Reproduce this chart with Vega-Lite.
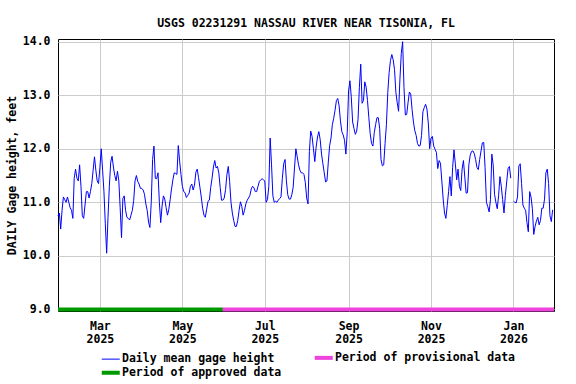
{
"$schema": "https://vega.github.io/schema/vega-lite/v6.json",
"width": 496, "height": 272,
"autosize": {"type": "none"},
"padding": {"left": 58, "top": 39, "right": 22, "bottom": 73},
"background": "white",
"title": {"text": "USGS 02231291 NASSAU RIVER NEAR TISONIA, FL", "font": "DejaVu Sans Mono", "fontSize": 11.5, "fontWeight": "bold", "color": "black", "anchor": "middle", "offset": 6},
"config": {"view": {"stroke": "black", "strokeWidth": 1}},
"datasets": {
"periods": [
{"series": "Period of approved data", "start": "2025-01-29", "end": "2025-05-31"},
{"series": "Period of provisional data", "start": "2025-05-31", "end": "2026-01-31"}
],
"gage": [
{"date":"2025-01-29","h":10.75},{"date":"2025-01-30","h":10.8},{"date":"2025-01-31","h":10.5},
{"date":"2025-02-01","h":10.85},{"date":"2025-02-02","h":11.1},{"date":"2025-02-03","h":11.05},{"date":"2025-02-04","h":11.0},{"date":"2025-02-05","h":11.1},{"date":"2025-02-06","h":11.0},{"date":"2025-02-07","h":10.9},{"date":"2025-02-08","h":10.85},{"date":"2025-02-09","h":10.7},{"date":"2025-02-10","h":11.45},{"date":"2025-02-11","h":11.62},{"date":"2025-02-12","h":11.45},{"date":"2025-02-13","h":11.4},{"date":"2025-02-14","h":11.7},{"date":"2025-02-15","h":11.3},{"date":"2025-02-16","h":10.75},{"date":"2025-02-17","h":10.7},{"date":"2025-02-18","h":10.95},{"date":"2025-02-19","h":11.2},{"date":"2025-02-20","h":11.2},{"date":"2025-02-21","h":11.08},{"date":"2025-02-22","h":11.2},{"date":"2025-02-23","h":11.35},{"date":"2025-02-24","h":11.6},{"date":"2025-02-25","h":11.85},{"date":"2025-02-26","h":11.6},{"date":"2025-02-27","h":11.4},{"date":"2025-02-28","h":11.35},
{"date":"2025-03-01","h":11.65},{"date":"2025-03-02","h":12.0},{"date":"2025-03-03","h":11.6},{"date":"2025-03-04","h":11.2},{"date":"2025-03-05","h":10.6},{"date":"2025-03-06","h":10.05},{"date":"2025-03-07","h":10.72},{"date":"2025-03-08","h":11.3},{"date":"2025-03-09","h":11.75},{"date":"2025-03-10","h":11.86},{"date":"2025-03-11","h":11.66},{"date":"2025-03-12","h":11.5},{"date":"2025-03-13","h":11.4},{"date":"2025-03-14","h":11.58},{"date":"2025-03-15","h":11.4},{"date":"2025-03-16","h":10.9},{"date":"2025-03-17","h":10.34},{"date":"2025-03-18","h":11.07},{"date":"2025-03-19","h":11.12},{"date":"2025-03-20","h":10.85},{"date":"2025-03-21","h":10.72},{"date":"2025-03-22","h":10.7},{"date":"2025-03-23","h":10.67},{"date":"2025-03-24","h":10.76},{"date":"2025-03-25","h":10.85},{"date":"2025-03-26","h":11.03},{"date":"2025-03-27","h":11.4},{"date":"2025-03-28","h":11.5},{"date":"2025-03-29","h":11.39},{"date":"2025-03-30","h":11.34},{"date":"2025-03-31","h":11.26},
{"date":"2025-04-01","h":11.26},{"date":"2025-04-02","h":11.23},{"date":"2025-04-03","h":11.15},{"date":"2025-04-04","h":10.97},{"date":"2025-04-05","h":10.85},{"date":"2025-04-06","h":10.63},{"date":"2025-04-07","h":10.53},{"date":"2025-04-08","h":11.0},{"date":"2025-04-09","h":11.8},{"date":"2025-04-10","h":12.05},{"date":"2025-04-11","h":11.45},{"date":"2025-04-12","h":11.44},{"date":"2025-04-13","h":11.55},{"date":"2025-04-14","h":11.0},{"date":"2025-04-15","h":10.62},{"date":"2025-04-16","h":10.93},{"date":"2025-04-17","h":11.12},{"date":"2025-04-18","h":11.06},{"date":"2025-04-19","h":10.9},{"date":"2025-04-20","h":10.76},{"date":"2025-04-21","h":10.87},{"date":"2025-04-22","h":11.05},{"date":"2025-04-23","h":11.25},{"date":"2025-04-24","h":11.42},{"date":"2025-04-25","h":11.55},{"date":"2025-04-26","h":11.54},{"date":"2025-04-27","h":11.52},{"date":"2025-04-28","h":12.06},{"date":"2025-04-29","h":11.77},{"date":"2025-04-30","h":11.52},
{"date":"2025-05-01","h":11.3},{"date":"2025-05-02","h":11.2},{"date":"2025-05-03","h":11.18},{"date":"2025-05-04","h":11.09},{"date":"2025-05-05","h":11.13},{"date":"2025-05-06","h":11.17},{"date":"2025-05-07","h":11.3},{"date":"2025-05-08","h":11.34},{"date":"2025-05-09","h":11.23},{"date":"2025-05-10","h":11.32},{"date":"2025-05-11","h":11.56},{"date":"2025-05-12","h":11.62},{"date":"2025-05-13","h":11.46},{"date":"2025-05-14","h":11.28},{"date":"2025-05-15","h":11.1},{"date":"2025-05-16","h":10.89},{"date":"2025-05-17","h":10.76},{"date":"2025-05-18","h":10.72},{"date":"2025-05-19","h":10.87},{"date":"2025-05-20","h":11.02},{"date":"2025-05-21","h":11.04},{"date":"2025-05-22","h":11.28},{"date":"2025-05-23","h":11.45},{"date":"2025-05-24","h":11.66},{"date":"2025-05-25","h":11.78},{"date":"2025-05-26","h":11.64},{"date":"2025-05-27","h":11.67},{"date":"2025-05-28","h":11.55},{"date":"2025-05-29","h":11.28},{"date":"2025-05-30","h":11.04},{"date":"2025-05-31","h":11.04},
{"date":"2025-06-01","h":11.08},{"date":"2025-06-02","h":11.24},{"date":"2025-06-03","h":11.52},{"date":"2025-06-04","h":11.67},{"date":"2025-06-05","h":11.39},{"date":"2025-06-06","h":11.0},{"date":"2025-06-07","h":10.8},{"date":"2025-06-08","h":10.66},{"date":"2025-06-09","h":10.55},{"date":"2025-06-10","h":10.55},{"date":"2025-06-11","h":10.66},{"date":"2025-06-12","h":10.85},{"date":"2025-06-13","h":11.01},{"date":"2025-06-14","h":10.92},{"date":"2025-06-15","h":10.76},{"date":"2025-06-16","h":10.85},{"date":"2025-06-17","h":10.97},{"date":"2025-06-18","h":11.04},{"date":"2025-06-19","h":11.08},{"date":"2025-06-20","h":11.13},{"date":"2025-06-21","h":11.25},{"date":"2025-06-22","h":11.3},{"date":"2025-06-23","h":11.27},{"date":"2025-06-24","h":11.2},{"date":"2025-06-25","h":11.2},{"date":"2025-06-26","h":11.3},{"date":"2025-06-27","h":11.39},{"date":"2025-06-28","h":11.42},{"date":"2025-06-29","h":11.44},{"date":"2025-06-30","h":11.42},
{"date":"2025-07-01","h":11.4},{"date":"2025-07-02","h":11.0},{"date":"2025-07-03","h":11.05},{"date":"2025-07-04","h":11.3},{"date":"2025-07-05","h":12.2},{"date":"2025-07-06","h":11.7},{"date":"2025-07-07","h":11.12},{"date":"2025-07-08","h":11.0},{"date":"2025-07-09","h":11.02},{"date":"2025-07-10","h":11.0},{"date":"2025-07-11","h":11.04},{"date":"2025-07-12","h":11.07},{"date":"2025-07-13","h":11.1},{"date":"2025-07-14","h":11.45},{"date":"2025-07-15","h":11.72},{"date":"2025-07-16","h":11.8},{"date":"2025-07-17","h":11.4},{"date":"2025-07-18","h":11.14},{"date":"2025-07-19","h":11.06},{"date":"2025-07-20","h":11.06},{"date":"2025-07-21","h":11.14},{"date":"2025-07-22","h":11.28},{"date":"2025-07-23","h":11.64},{"date":"2025-07-24","h":12.0},{"date":"2025-07-25","h":11.85},{"date":"2025-07-26","h":11.7},{"date":"2025-07-27","h":11.6},{"date":"2025-07-28","h":11.55},{"date":"2025-07-29","h":11.55},{"date":"2025-07-30","h":11.52},{"date":"2025-07-31","h":11.37},
{"date":"2025-08-01","h":11.08},{"date":"2025-08-02","h":10.97},{"date":"2025-08-03","h":11.95},{"date":"2025-08-04","h":12.33},{"date":"2025-08-05","h":12.23},{"date":"2025-08-06","h":12.0},{"date":"2025-08-07","h":11.76},{"date":"2025-08-08","h":12.03},{"date":"2025-08-09","h":12.22},{"date":"2025-08-10","h":12.32},{"date":"2025-08-11","h":12.17},{"date":"2025-08-12","h":11.9},{"date":"2025-08-13","h":11.72},{"date":"2025-08-14","h":11.55},{"date":"2025-08-15","h":11.38},{"date":"2025-08-16","h":11.4},{"date":"2025-08-17","h":11.75},{"date":"2025-08-18","h":12.06},{"date":"2025-08-19","h":12.2},{"date":"2025-08-20","h":12.45},{"date":"2025-08-21","h":12.57},{"date":"2025-08-22","h":12.72},{"date":"2025-08-23","h":12.9},{"date":"2025-08-24","h":12.94},{"date":"2025-08-25","h":12.8},{"date":"2025-08-26","h":12.52},{"date":"2025-08-27","h":12.32},{"date":"2025-08-28","h":12.26},{"date":"2025-08-29","h":12.16},{"date":"2025-08-30","h":11.9},{"date":"2025-08-31","h":12.3},
{"date":"2025-09-01","h":13.08},{"date":"2025-09-02","h":13.27},{"date":"2025-09-03","h":12.97},{"date":"2025-09-04","h":12.5},{"date":"2025-09-05","h":12.38},{"date":"2025-09-06","h":12.27},{"date":"2025-09-07","h":12.33},{"date":"2025-09-08","h":12.55},{"date":"2025-09-09","h":13.15},{"date":"2025-09-10","h":13.58},{"date":"2025-09-11","h":12.85},{"date":"2025-09-12","h":12.9},{"date":"2025-09-13","h":13.25},{"date":"2025-09-14","h":13.15},{"date":"2025-09-15","h":12.9},{"date":"2025-09-16","h":12.58},{"date":"2025-09-17","h":12.28},{"date":"2025-09-18","h":12.1},{"date":"2025-09-19","h":12.05},{"date":"2025-09-20","h":12.3},{"date":"2025-09-21","h":12.45},{"date":"2025-09-22","h":12.58},{"date":"2025-09-23","h":12.58},{"date":"2025-09-24","h":12.38},{"date":"2025-09-25","h":11.8},{"date":"2025-09-26","h":11.68},{"date":"2025-09-27","h":11.7},{"date":"2025-09-28","h":12.1},{"date":"2025-09-29","h":12.45},{"date":"2025-09-30","h":13.05},
{"date":"2025-10-01","h":13.42},{"date":"2025-10-02","h":13.65},{"date":"2025-10-03","h":13.76},{"date":"2025-10-04","h":13.66},{"date":"2025-10-05","h":13.48},{"date":"2025-10-06","h":13.05},{"date":"2025-10-07","h":12.86},{"date":"2025-10-08","h":12.7},{"date":"2025-10-09","h":13.3},{"date":"2025-10-10","h":13.78},{"date":"2025-10-11","h":14.0},{"date":"2025-10-12","h":13.15},{"date":"2025-10-13","h":12.63},{"date":"2025-10-14","h":12.64},{"date":"2025-10-15","h":12.86},{"date":"2025-10-16","h":13.06},{"date":"2025-10-17","h":13.02},{"date":"2025-10-18","h":12.73},{"date":"2025-10-19","h":12.5},{"date":"2025-10-20","h":12.34},{"date":"2025-10-21","h":12.25},{"date":"2025-10-22","h":12.1},{"date":"2025-10-23","h":12.05},{"date":"2025-10-24","h":12.06},{"date":"2025-10-25","h":12.25},{"date":"2025-10-26","h":12.69},{"date":"2025-10-27","h":12.77},{"date":"2025-10-28","h":12.83},{"date":"2025-10-29","h":12.74},{"date":"2025-10-30","h":12.48},{"date":"2025-10-31","h":12.0},
{"date":"2025-11-01","h":12.2},{"date":"2025-11-02","h":12.23},{"date":"2025-11-03","h":12.05},{"date":"2025-11-04","h":11.99},{"date":"2025-11-05","h":11.93},{"date":"2025-11-06","h":11.63},{"date":"2025-11-07","h":11.78},{"date":"2025-11-08","h":11.73},{"date":"2025-11-09","h":11.4},{"date":"2025-11-10","h":11.06},{"date":"2025-11-11","h":10.8},{"date":"2025-11-12","h":10.7},{"date":"2025-11-13","h":10.94},{"date":"2025-11-14","h":11.2},{"date":"2025-11-15","h":11.48},{"date":"2025-11-16","h":11.12},{"date":"2025-11-17","h":11.65},{"date":"2025-11-18","h":11.98},{"date":"2025-11-19","h":11.72},{"date":"2025-11-20","h":11.42},{"date":"2025-11-21","h":11.62},{"date":"2025-11-22","h":11.3},{"date":"2025-11-23","h":11.22},{"date":"2025-11-24","h":11.62},{"date":"2025-11-25","h":11.78},{"date":"2025-11-26","h":11.47},{"date":"2025-11-27","h":11.17},{"date":"2025-11-28","h":11.18},{"date":"2025-11-29","h":11.7},{"date":"2025-11-30","h":11.88},
{"date":"2025-12-01","h":11.95},{"date":"2025-12-02","h":11.96},{"date":"2025-12-03","h":11.91},{"date":"2025-12-04","h":11.8},{"date":"2025-12-05","h":11.65},{"date":"2025-12-06","h":11.61},{"date":"2025-12-07","h":11.8},{"date":"2025-12-08","h":11.96},{"date":"2025-12-09","h":12.11},{"date":"2025-12-10","h":12.12},{"date":"2025-12-11","h":11.65},{"date":"2025-12-12","h":11.0},{"date":"2025-12-13","h":10.92},{"date":"2025-12-14","h":10.82},{"date":"2025-12-15","h":11.05},{"date":"2025-12-16","h":11.9},{"date":"2025-12-17","h":11.7},{"date":"2025-12-18","h":11.15},{"date":"2025-12-19","h":11.0},{"date":"2025-12-20","h":10.88},{"date":"2025-12-21","h":11.12},{"date":"2025-12-22","h":11.48},{"date":"2025-12-23","h":11.3},{"date":"2025-12-24","h":11.05},{"date":"2025-12-25","h":10.8},{"date":"2025-12-26","h":11.13},{"date":"2025-12-27","h":11.38},{"date":"2025-12-28","h":11.63},{"date":"2025-12-29","h":11.67},{"date":"2025-12-30","h":11.45},{"date":"2025-12-31","h":null},
{"date":"2026-01-01","h":11.02},{"date":"2026-01-02","h":11.0},{"date":"2026-01-03","h":10.99},{"date":"2026-01-04","h":11.1},{"date":"2026-01-05","h":11.68},{"date":"2026-01-06","h":11.72},{"date":"2026-01-07","h":11.35},{"date":"2026-01-08","h":10.95},{"date":"2026-01-09","h":10.89},{"date":"2026-01-10","h":10.85},{"date":"2026-01-11","h":10.62},{"date":"2026-01-12","h":10.45},{"date":"2026-01-13","h":11.2},{"date":"2026-01-14","h":11.1},{"date":"2026-01-15","h":10.88},{"date":"2026-01-16","h":10.4},{"date":"2026-01-17","h":10.55},{"date":"2026-01-18","h":10.65},{"date":"2026-01-19","h":10.72},{"date":"2026-01-20","h":10.58},{"date":"2026-01-21","h":10.66},{"date":"2026-01-22","h":10.89},{"date":"2026-01-23","h":10.89},{"date":"2026-01-24","h":11.06},{"date":"2026-01-25","h":11.55},{"date":"2026-01-26","h":11.62},{"date":"2026-01-27","h":11.35},{"date":"2026-01-28","h":10.75},{"date":"2026-01-29","h":10.64},{"date":"2026-01-30","h":10.86}
]
},
"layer": [
{
"data": {"name": "periods"},
"mark": {"type": "rule", "strokeWidth": 4, "strokeCap": "butt"},
"encoding": {
"x": {"field": "start", "type": "temporal",
 "scale": {"type": "utc", "domain": [{"year": 2025, "month": 1, "date": 29, "utc": true}, {"year": 2026, "month": 1, "date": 31, "utc": true}], "nice": false},
 "axis": {"title": null,
  "values": [{"year": 2025, "month": 3, "date": 1, "utc": true}, {"year": 2025, "month": 5, "date": 1, "utc": true}, {"year": 2025, "month": 7, "date": 1, "utc": true}, {"year": 2025, "month": 9, "date": 1, "utc": true}, {"year": 2025, "month": 11, "date": 1, "utc": true}, {"year": 2026, "month": 1, "date": 1, "utc": true}],
  "labelExpr": "[utcFormat(datum.value, '%b'), utcFormat(datum.value, '%Y')]",
  "grid": true, "gridColor": "#cccccc", "gridWidth": 1, "ticks": false, "domain": false,
  "labelFont": "DejaVu Sans Mono", "labelFontWeight": "bold", "labelFontSize": 11.5, "labelColor": "black",
  "labelPadding": 9, "labelLineHeight": 13.5, "labelFlush": false, "labelOverlap": false}},
"x2": {"field": "end"},
"y": {"datum": 9, "type": "quantitative"},
"color": {"field": "series", "type": "nominal",
 "scale": {"domain": ["Daily mean gage height", "Period of approved data", "Period of provisional data"], "range": ["#0000ff", "#009900", "#ee44dd"]},
 "legend": {"title": null, "orient": "none", "legendX": 47, "legendY": 313, "columns": 2, "padding": 0,
  "symbolType": "stroke", "symbolSize": 324, "symbolStrokeWidth": 4, "labelOffset": 5.5, "columnPadding": 24, "rowPadding": -2, "labelLimit": 400,
  "labelFont": "DejaVu Sans Mono", "labelFontWeight": "bold", "labelFontSize": 11.5, "labelColor": "black",
  "encode": {"symbols": {"update": {"strokeWidth": {"signal": "datum.value === 'Daily mean gage height' ? 1 : 4"}}}}}}
}
},
{
"data": {"name": "gage"},
"mark": {"type": "line", "strokeWidth": 1, "invalid": "break-paths-show-domains"},
"encoding": {
"x": {"field": "date", "type": "temporal"},
"y": {"field": "h", "type": "quantitative",
 "scale": {"domain": [8.97, 14.05], "nice": false, "zero": false},
 "axis": {"title": "DAILY Gage height, feet", "values": [9, 10, 11, 12, 13, 14], "format": ".1f",
  "grid": true, "gridColor": "#cccccc", "gridWidth": 1, "ticks": false, "domain": false,
  "labelFont": "DejaVu Sans Mono", "labelFontWeight": "bold", "labelFontSize": 11.5, "labelColor": "black", "labelPadding": 8,
  "titleFont": "DejaVu Sans Mono", "titleFontWeight": "bold", "titleFontSize": 11.5, "titleColor": "black", "titlePadding": 5}},
"color": {"datum": "Daily mean gage height", "type": "nominal"}
}
}
]
}
